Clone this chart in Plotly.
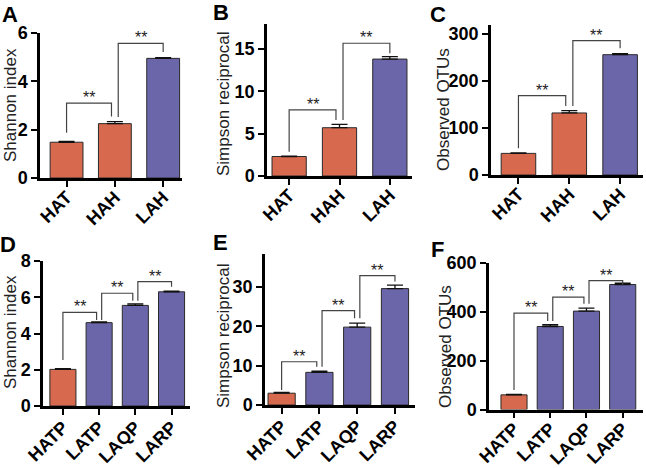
import plotly.graph_objects as go

W, H = 646, 468

# ---------------- data ----------------
cats_top = ["HAT", "HAH", "LAH"]
cats_bot = ["HATP", "LATP", "LAQP", "LARP"]

shannon_top = [1.48, 2.25, 4.95]
shannon_top_err = [0.03, 0.08, 0.03]
simpson_top = [2.3, 5.7, 13.8]
simpson_top_err = [0.05, 0.4, 0.3]
otus_top = [46, 132, 256]
otus_top_err = [1, 5, 2]

shannon_bot = [2.02, 4.6, 5.55, 6.3]
shannon_bot_err = [0.04, 0.04, 0.08, 0.04]
simpson_bot = [3.0, 8.3, 19.8, 29.6]
simpson_bot_err = [0.2, 0.3, 1.0, 0.9]
otus_bot = [60, 340, 403, 512]
otus_bot_err = [2, 7, 12, 5]

group_top = ["H", "H", "L"]
group_bot = ["H", "L", "L", "L"]

# significance brackets: (from idx, to idx, level, left-leg bottom, right-leg bottom)
br_A = [(0, 1, 3.1, 1.87, 2.54), (1, 2, 5.57, 2.52, 5.21)]
br_B = [(0, 1, 7.8, 2.87, 6.6), (1, 2, 15.67, 6.6, 14.5)]
br_C = [(0, 1, 168.7, 57, 147), (1, 2, 285.7, 147, 269.6)]
br_D = [(0, 1, 5.17, 2.54, 4.74), (1, 2, 6.22, 4.74, 5.81), (2, 3, 6.86, 5.81, 6.58)]
br_E = [(0, 1, 11.0, 3.8, 9.75), (1, 2, 24.0, 9.75, 22.05), (2, 3, 32.9, 22.05, 31.4)]
br_F = [(0, 1, 395, 80, 362), (1, 2, 460, 362, 433), (2, 3, 528, 433, 508)]

ORANGE = "#D6694E"
PURPLE = "#6B66AA"
COLORS = {"H": ORANGE, "L": PURPLE}
FONT = "Arial, Liberation Sans, Helvetica, sans-serif"

# panel layout in pixels
panels = [
    ("A", "Shannon index", cats_top, shannon_top, shannon_top_err, group_top, br_A,
     40, 182, 33, 178, [0, 6], [-0.55, 2.39], 2, 0.68, (10, 15), (11, 105), -7),
    ("B", "Simpson reciprocal", cats_top, simpson_top, simpson_top_err, group_top, br_B,
     267, 412, 23.5, 176, [0, 18], [-0.44, 2.44], 5, 0.68, (221, 12), (223, 104), -7),
    ("C", "Observed OTUs", cats_top, otus_top, otus_top_err, group_top, br_C,
     491, 643, 24.6, 175, [0, 320], [-0.54, 2.45], 100, 0.68, (438, 14), (443, 110), -7),
    ("D", "Shannon index", cats_bot, shannon_bot, shannon_bot_err, group_bot, br_D,
     43, 190, 261, 406, [0, 8], [-0.55, 3.51], 2, 0.72, (8, 244), (10, 332), -5),
    ("E", "Simpson reciprocal", cats_bot, simpson_bot, simpson_bot_err, group_bot, br_E,
     265, 415, 253.6, 405, [0, 38.5], [-0.44, 3.53], 10, 0.72, (220, 242), (223, 336), -5),
    ("F", "Observed OTUs", cats_bot, otus_bot, otus_bot_err, group_bot, br_F,
     489, 643, 263, 409.5, [0, 600], [-0.69, 3.56], 200, 0.72, (437, 249), (445, 347), -7),
]

fig = go.Figure()
layout = {}
shapes = []
annotations = []

for k, (letter, ytitle, cats, vals, errs, groups, brs, x0, x1, yt, yb,
        yr, xr, dt, bw, lpos, tpos, stand) in enumerate(panels):
    n = "" if k == 0 else str(k + 1)
    xa, ya = "x" + n, "y" + n
    fig.add_trace(go.Bar(
        x=cats, y=vals, xaxis=xa, yaxis=ya, width=bw,
        marker=dict(color=[COLORS[g] for g in groups],
                    line=dict(color="#2a2a2a", width=1)),
        error_y=dict(type="data", array=errs, arrayminus=[0] * len(errs),
                     symmetric=False, color="#111", thickness=1.3, width=8),
        showlegend=False, hoverinfo="skip",
    ))
    layout["xaxis" + n] = dict(
        domain=[x0 / W, x1 / W], anchor=ya, type="category",
        categoryorder="array", categoryarray=cats, range=xr,
        showline=True, linecolor="black", linewidth=2.5,
        ticks="outside", ticklen=6, tickwidth=2, tickcolor="black",
        tickangle=-45, showgrid=False, zeroline=False, automargin=False,
        ticklabelstandoff=stand,
        tickfont=dict(family=FONT, size=18, color="black", weight=700),
    )
    layout["yaxis" + n] = dict(
        domain=[1 - yb / H, 1 - yt / H], anchor=xa, range=yr,
        tick0=0, dtick=dt, automargin=False,
        showline=True, linecolor="black", linewidth=2.5,
        ticks="outside", ticklen=6, tickwidth=2, tickcolor="black",
        showgrid=False, zeroline=False,
        tickfont=dict(family=FONT, size=18, color="black", weight=700),
    )
    nb = len(brs)
    for b, (i, j, lev, lb, rb) in enumerate(brs):
        xl = i + (0.07 if b > 0 else 0)
        xrr = j - (0.07 if b < nb - 1 else 0)
        shapes.append(dict(
            type="path", xref=xa, yref=ya,
            path=f"M {xl} {lb} L {xl} {lev} L {xrr} {lev} L {xrr} {rb}",
            line=dict(color="#444", width=1.2),
        ))
        annotations.append(dict(
            x=(xl + xrr) / 2, y=lev, xref=xa, yref=ya, text="**",
            showarrow=False, yanchor="bottom", yshift=-5,
            font=dict(family=FONT, size=16, color="#222"),
        ))
    annotations.append(dict(
        x=lpos[0] / W, y=1 - lpos[1] / H, xref="paper", yref="paper",
        text=f"<b>{letter}</b>", showarrow=False,
        xanchor="center", yanchor="middle",
        font=dict(family=FONT, size=22, color="black"),
    ))
    annotations.append(dict(
        x=tpos[0] / W, y=1 - tpos[1] / H, xref="paper", yref="paper",
        text=ytitle, textangle=-90, showarrow=False,
        xanchor="center", yanchor="middle",
        font=dict(family=FONT, size=17, color="#222"),
    ))

fig.update_layout(
    width=W, height=H, margin=dict(l=0, r=0, t=0, b=0, autoexpand=False),
    paper_bgcolor="white", plot_bgcolor="white",
    shapes=shapes, annotations=annotations, **layout,
)
fig.write_html(
    "out.html",
    config={"displayModeBar": False},
    post_script="document.body.style.margin='0';document.body.style.overflow='hidden';",
)
